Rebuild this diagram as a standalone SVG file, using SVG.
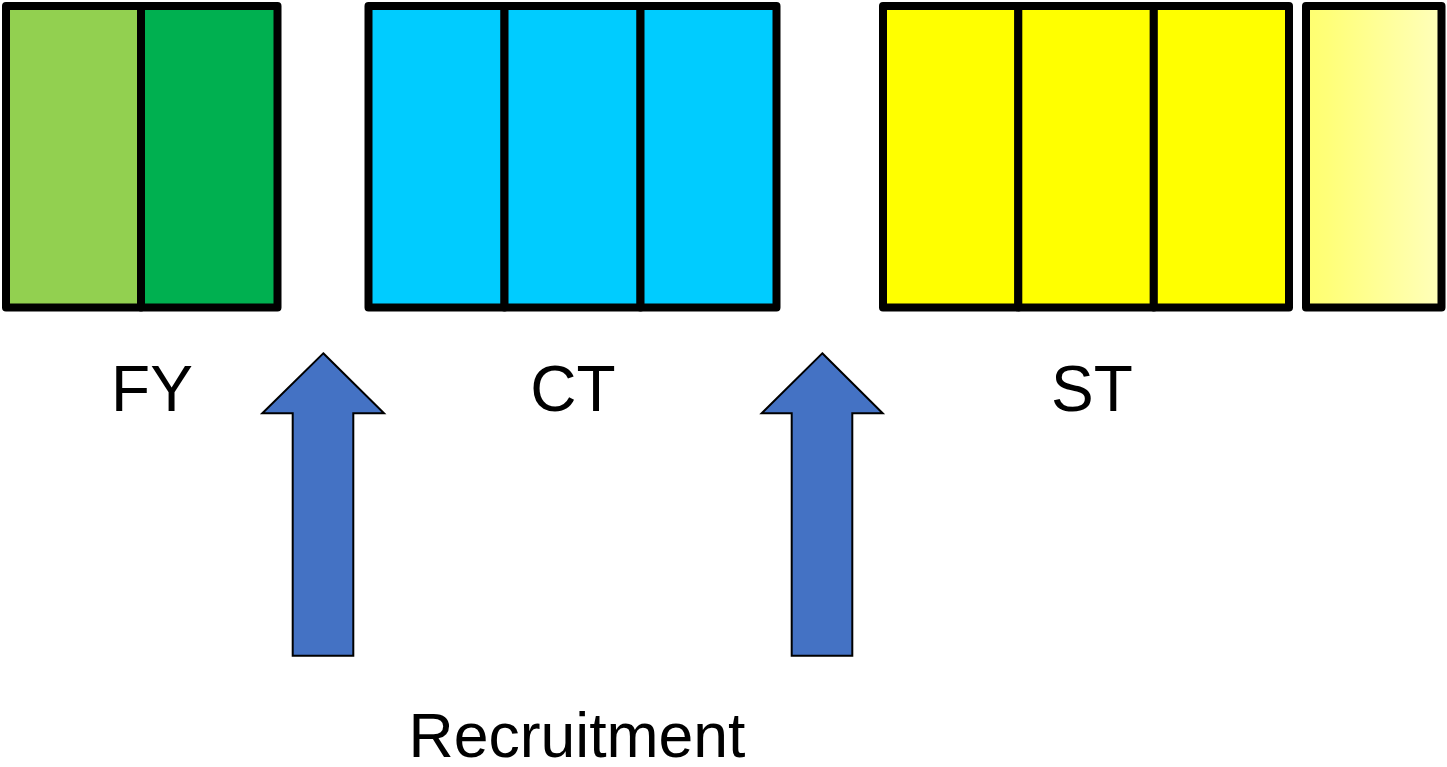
<svg xmlns="http://www.w3.org/2000/svg" width="1447" height="767" viewBox="0 0 1447 767">
  <defs>
    <linearGradient id="paleYellow" x1="0" y1="0" x2="1" y2="0">
      <stop offset="0" stop-color="#ffff70"/>
      <stop offset="0.15" stop-color="#ffff78"/>
      <stop offset="1" stop-color="#ffffbb"/>
    </linearGradient>
  </defs>
  <style>
    .cell { stroke: #000; stroke-width: 8; stroke-linejoin: round; }
    .arrow { fill: #4472c4; stroke: #000; stroke-width: 2; stroke-linejoin: miter; }
    .label { font-family: "Liberation Sans", Arial, sans-serif; font-size: 64px; fill: #000; text-anchor: middle; }
  </style>
  <rect width="1447" height="767" fill="#fff"/>

  <!-- Foundation years -->
  <g id="fy">
    <rect class="cell" x="6" y="6" width="135" height="301.5" fill="#92d050"/>
    <rect class="cell" x="141" y="6" width="136.5" height="301.5" fill="#00b050"/>
    <text class="label" x="152" y="411">FY</text>
  </g>

  <!-- Core training -->
  <g id="ct">
    <rect class="cell" x="368.5" y="6" width="136" height="301.5" fill="#00ccff"/>
    <rect class="cell" x="504.5" y="6" width="136" height="301.5" fill="#00ccff"/>
    <rect class="cell" x="640.5" y="6" width="136" height="301.5" fill="#00ccff"/>
    <text class="label" x="573" y="411">CT</text>
  </g>

  <!-- Specialty training -->
  <g id="st">
    <rect class="cell" x="883" y="6" width="135.3" height="301.5" fill="#ffff00"/>
    <rect class="cell" x="1018.3" y="6" width="135.5" height="301.5" fill="#ffff00"/>
    <rect class="cell" x="1153.8" y="6" width="135.2" height="301.5" fill="#ffff00"/>
    <text class="label" x="1092" y="411">ST</text>
  </g>

  <!-- Optional further year -->
  <g id="st-extra">
    <rect class="cell" x="1306" y="6" width="135.5" height="301.5" fill="url(#paleYellow)"/>
  </g>

  <!-- Recruitment entry points -->
  <g id="connectors">
    <polygon class="arrow" points="323.3,353.3 384,413.3 353.3,413.3 353.3,655.7 292.7,655.7 292.7,413.3 262.3,413.3"/>
    <polygon class="arrow" points="822.3,353.3 882.7,413.3 852.3,413.3 852.3,655.7 791.7,655.7 791.7,413.3 761.7,413.3"/>
  </g>

  <g id="recruitment">
    <text class="label" x="577" y="757" style="font-size:62.5px">Recruitment</text>
  </g>
</svg>
